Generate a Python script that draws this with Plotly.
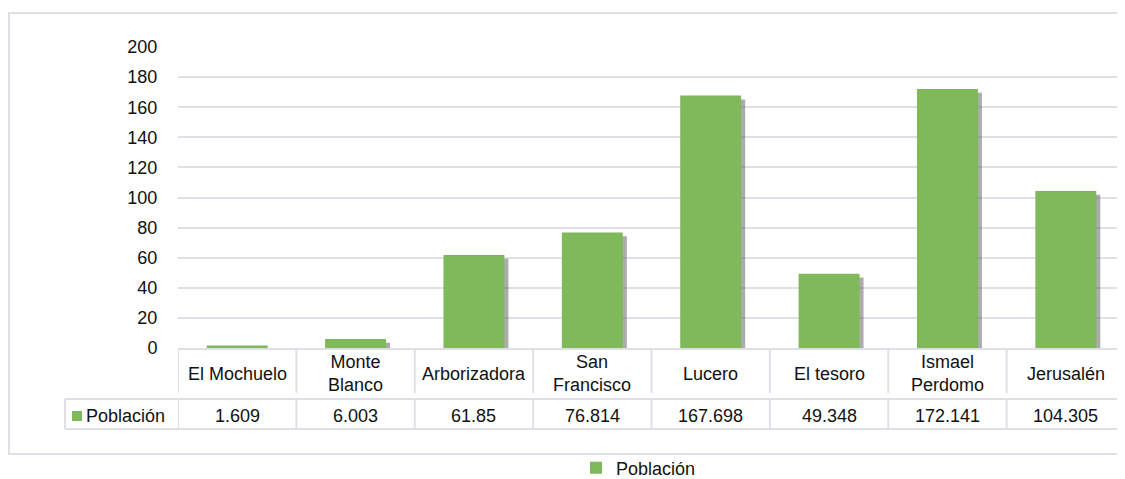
import plotly.graph_objects as go

# ---- data ----
categories = ["El Mochuelo", "Monte Blanco", "Arborizadora", "San Francisco",
              "Lucero", "El tesoro", "Ismael Perdomo", "Jerusalén"]
category_labels = ["El Mochuelo", "Monte<br>Blanco", "Arborizadora", "San<br>Francisco",
                   "Lucero", "El tesoro", "Ismael<br>Perdomo", "Jerusalén"]
poblacion = [1.609, 6.003, 61.85, 76.814, 167.698, 49.348, 172.141, 104.305]
value_labels = ["1.609", "6.003", "61.85", "76.814", "167.698", "49.348", "172.141", "104.305"]
series_name = "Población"
y_ticks = [0, 20, 40, 60, 80, 100, 120, 140, 160, 180, 200]

# ---- layout geometry (window pixels; page body has an 8px margin) ----
OFF = 8
WIN_W, WIN_H = 1125, 479
W, H = WIN_W - OFF, WIN_H - OFF
L, T = 178 - OFF, 47 - OFF
R = 0
B = WIN_H - 348
PW = W - L - R
PH = H - T - B

def px(x):
    return (x - OFF - L) / PW

def py(y):
    return (T + PH - (y - OFF)) / PH

FONT = "Liberation Sans, Arial, sans-serif"
FS = 18
GREEN = "#80b85c"
LINE = "#dde1e7"
TXT = "#111111"

BAR_W = 0.515
SHADOW_SHIFT = 4.0 / (PW / len(categories))

fig = go.Figure()

# soft shadow behind bars
fig.add_trace(go.Bar(
    x=categories,
    y=[max(v - 2.5, 0) for v in poblacion],
    width=BAR_W, offset=-BAR_W / 2 + SHADOW_SHIFT,
    marker=dict(color="rgba(90,90,90,0.5)", line=dict(width=0)),
    showlegend=False, hoverinfo="skip",
))
# main bars
fig.add_trace(go.Bar(
    x=categories, y=poblacion, name=series_name,
    width=BAR_W, offset=-BAR_W / 2,
    marker=dict(color=GREEN, line=dict(width=0)),
))

shapes = []
# outer chart border
shapes.append(dict(type="rect", xref="paper", yref="paper",
                   x0=px(OFF + 1), x1=px(1140), y0=py(13), y1=py(454),
                   line=dict(color=LINE, width=2), layer="below"))
n = len(categories)
# category row separators
for k in range(n + 1):
    shapes.append(dict(type="line", xref="x", yref="paper",
                       x0=k - 0.5, x1=k - 0.5, y0=py(349), y1=py(393),
                       line=dict(color=LINE, width=2)))
# data table value row
for yy in (399, 429):
    shapes.append(dict(type="line", xref="paper", yref="paper",
                       x0=px(65), x1=px(1140), y0=py(yy), y1=py(yy),
                       line=dict(color=LINE, width=2)))
shapes.append(dict(type="line", xref="paper", yref="paper",
                   x0=px(65), x1=px(65), y0=py(399), y1=py(429),
                   line=dict(color=LINE, width=2)))
for k in range(n + 1):
    shapes.append(dict(type="line", xref="x", yref="paper",
                       x0=k - 0.5, x1=k - 0.5, y0=py(399), y1=py(429),
                       line=dict(color=LINE, width=2)))
# legend key in table
shapes.append(dict(type="rect", xref="paper", yref="paper",
                   x0=px(72), x1=px(82), y0=py(411), y1=py(421),
                   fillcolor=GREEN, line=dict(width=0)))

annotations = []
for cat, lab in zip(categories, category_labels):
    annotations.append(dict(x=cat, xref="x", y=py(374), yref="paper",
                            text=lab, showarrow=False, xanchor="center", yanchor="middle",
                            font=dict(family=FONT, size=FS, color=TXT)))
for cat, lab in zip(categories, value_labels):
    annotations.append(dict(x=cat, xref="x", y=py(416), yref="paper",
                            text=lab, showarrow=False, xanchor="center", yanchor="middle",
                            font=dict(family=FONT, size=FS, color=TXT)))
annotations.append(dict(x=px(84), xref="paper", y=py(416), yref="paper",
                        text=series_name, showarrow=False, xanchor="left", yanchor="middle",
                        font=dict(family=FONT, size=FS, color=TXT)))

fig.update_layout(
    width=W, height=H,
    margin=dict(l=L, r=R, t=T, b=B),
    paper_bgcolor="white", plot_bgcolor="white",
    barmode="overlay",
    font=dict(family=FONT, size=FS, color=TXT),
    shapes=shapes, annotations=annotations,
    showlegend=True,
    legend=dict(orientation="h", xref="container", yref="container",
                x=(576 - OFF) / W, y=1 - (468 - OFF) / H, xanchor="left", yanchor="middle",
                font=dict(family=FONT, size=FS, color=TXT),
                itemwidth=30, bgcolor="rgba(0,0,0,0)"),
    xaxis=dict(showticklabels=False, showgrid=False, zeroline=False,
               showline=True, linecolor=LINE, linewidth=2, ticks="",
               range=[-0.5, n - 0.5]),
    yaxis=dict(range=[0, 200], tickvals=y_ticks, showgrid=True, gridcolor=LINE, gridwidth=2,
               zeroline=False, showline=False, ticks="outside", ticklen=16,
               tickcolor="rgba(0,0,0,0)",
               tickfont=dict(family=FONT, size=FS, color=TXT)),
)

fig.write_html("out.html")
